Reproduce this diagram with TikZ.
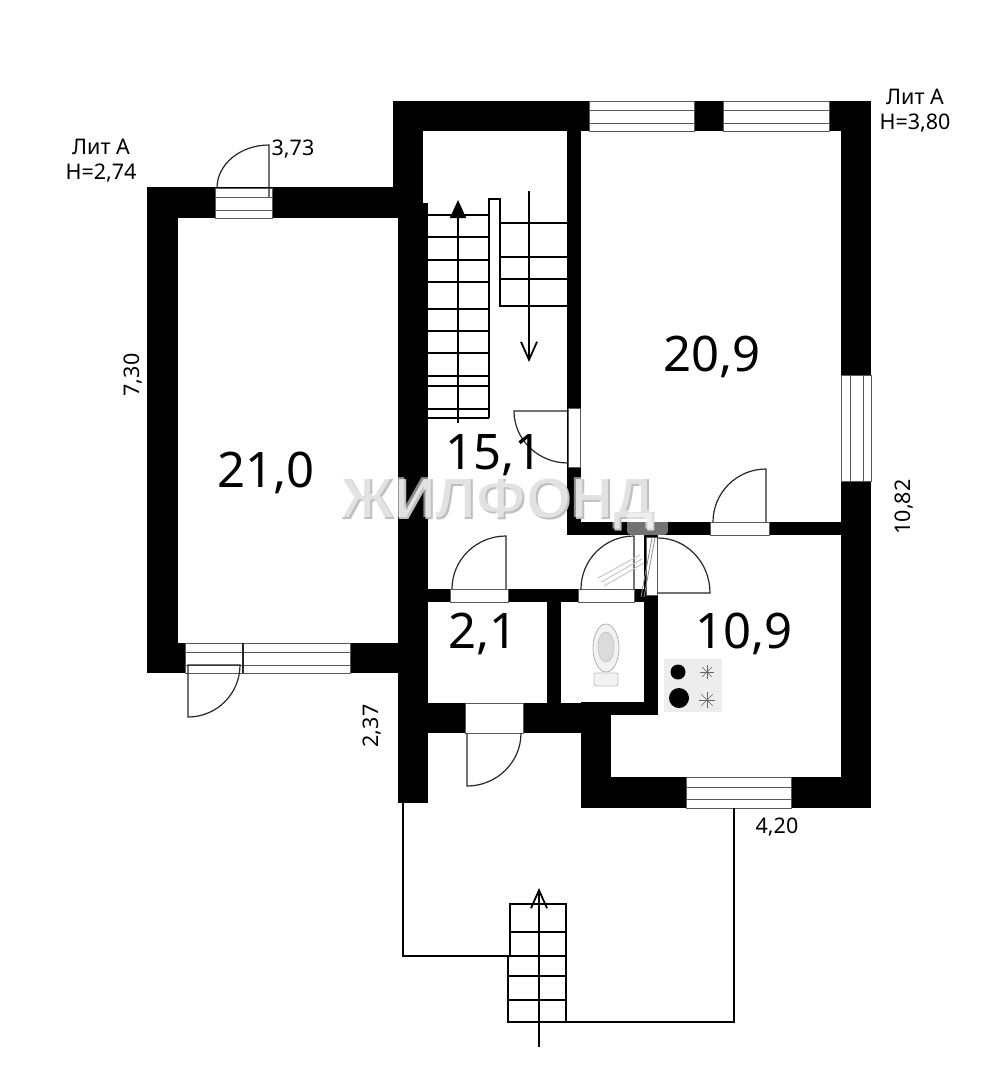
\documentclass[tikz,border=0pt]{standalone}
\usepackage{fontspec}
\setmainfont{Noto Sans}
\newfontfamily\stampfont{Liberation Sans}
\usetikzlibrary{arrows.meta}

\begin{document}
\begin{tikzpicture}[
		x=1pt, y=-1pt,
		wall/.style={fill=black},
		pane/.style={fill=white, draw=black!65, line width=1pt},
		swing/.style={draw=black!85, line width=1.2pt},
		stairs/.style={draw=black, line width=1.8pt},
		area/.style={font=\fontsize{49}{49}\selectfont, inner sep=0pt},
		dim/.style={font=\fontsize{21.5}{25}\selectfont, inner sep=0pt, align=center},
		stamp/.style={font=\stampfont\bfseries\fontsize{58}{58}\selectfont, inner sep=0pt}
		]
		\useasboundingbox (0,0) rectangle (1005,1080);

		% walls
		\foreach \xa/\ya/\xb/\yb in {147/187/398/218, 147/187/178/673, 147/643/398/673, 393/101/423/203,
			398/203/428/803, 393/101/871/131, 567/131/581/535, 841/101/871/808, 567/522/841/535,
			428/589/658/602, 644/535/658/715, 547/602/561/703, 428/703/581/733, 581/702/658/715,
			581/703/611/808, 581/777/871/808}
			\fill[wall] (\xa,\ya) rectangle (\xb,\yb);

		% windows, three lines along the wall
		\foreach \xa/\xb/\ya/\yb/\yc/\yd in {589/694/101/110/123/131, 723/829/101/110/123/131,
			686/791/777/787/799/808, 215/272/188/197/210/218, 185/350/643/652/665/673}
			\draw[pane] (\xa,\ya) rectangle (\xb,\yd) (\xa,\yb) -- (\xb,\yb) (\xa,\yc) -- (\xb,\yc);
		\draw[pane] (841,375) rectangle (871,481) (850,375) -- (850,481) (863,375) -- (863,481);
		\draw[swing] (243,643) -- (243,673);

		% door openings
		\foreach \xa/\ya/\xb/\yb in {710/522/769/535, 568/408/580/467, 450/589/508/602, 578/589/634/602,
			646/537/657/595, 465/703/523/733}
			\draw[pane] (\xa,\ya) rectangle (\xb,\yb);

		% door leaves
		\draw[swing] (217,188) arc[start angle=180, end angle=270, x radius=52, y radius=43] -- (269,197);
		\draw[swing] (188,665) -- (188,717) arc[start angle=90, end angle=0, x radius=52, y radius=52] -- cycle;
		\draw[swing] (766,522) -- (766,469) arc[start angle=270, end angle=180, x radius=53, y radius=53];
		\draw[swing] (568,411) -- (514,411) arc[start angle=180, end angle=90, x radius=54, y radius=52];
		\draw[swing] (506,589) -- (506,536) arc[start angle=270, end angle=180, x radius=54, y radius=53];
		\draw[swing] (634,589) -- (634,536) arc[start angle=270, end angle=180, x radius=53, y radius=53];
		\draw[swing] (658,538) arc[start angle=270, end angle=360, x radius=52, y radius=55] -- (658,593);
		\draw[swing] (467,733) -- (467,786) arc[start angle=90, end angle=0, x radius=54, y radius=53];

		% stairs inside
		\foreach \y in {215,237,260,282,309,331,353,376,386,409,418}
			\draw[stairs] (428,\y) -- (489,\y);
		\draw[stairs] (489,418) -- (489,199) -- (500,199) -- (500,306) -- (567,306);
		\foreach \y in {223,257,279}
			\draw[stairs] (500,\y) -- (567,\y);
		\draw[stairs, -{Triangle[length=18pt, width=16pt]}] (458,423) -- (458,200);
		\draw[stairs, -{Straight Barb[length=18pt, width=16pt]}] (529,191) -- (529,362);

		% porch
		\draw[stairs] (403,803) -- (403,956) -- (509,956);
		\draw[stairs] (510,956) -- (510,904) -- (566,904) -- (566,1022) -- (508,1022) -- (508,956);
		\foreach \y in {932,956,976,1000}
			\draw[stairs] (509,\y) -- (566,\y);
		\draw[stairs, line width=2.2pt] (566,1022) -- (734,1022) -- (734,808);
		\draw[stairs, -{Straight Barb[length=18pt, width=16pt]}] (539,1047) -- (539,888);

		% stove
		\fill[black!7] (664,659) rectangle (722,712);
		\fill (678,672) circle[radius=7.5];
		\fill (679,698) circle[radius=10];
		\foreach \a in {0,45,...,135} {
			\draw[black!60, line width=0.5pt] (707,672) ++(\a:7) -- ++(\a+180:14);
			\draw[black!60, line width=0.5pt] (707,700) ++(\a:8) -- ++(\a+180:16);
		}

		% toilet
		\draw[draw=black!30, fill=black!5, line width=0.8pt] (606,648) ellipse[x radius=13, y radius=24];
		\draw[draw=black!25, fill=black!14, line width=0.6pt] (606,647) ellipse[x radius=8, y radius=15];
		\draw[draw=black!25, fill=black!5, rounded corners=2pt, line width=0.8pt] (594,673) rectangle (618,686);

		% watermark
		\node[stamp, text=black!25] (stampback) at (499,505) {ЖИЛФОНД};
		\node[stamp, text=white, opacity=0.55] (stampfront) at (497,503) {ЖИЛФОНД};
		\fill[white, opacity=0.45, rounded corners=4pt] (627,513) rectangle (668,535);
		\draw[black!22, line width=1pt] (598,578) -- (640,555) (601,582) -- (642,559) (604,586) -- (644,563);
		\draw[black!45, line width=0.8pt] (641,597) -- (652,538) (644,597) -- (655,538);

		% areas
		\node[area] (bigroom) at (266,473) {21,0};
		\node[area] (upperroom) at (712,357) {20,9};
		\node[area] (hall) at (494,455) {15,1};
		\node[area] (kitchen) at (744,634) {10,9};
		\node[area] (closet) at (483,634) {2,1};

		% dimensions
		\node[dim] (litleft) at (101,161) {Лит А\\Н=2,74};
		\node[dim] (litright) at (915,111) {Лит А\\Н=3,80};
		\node[dim] (dimdoor) at (293,149) {3,73};
		\node[dim, rotate=90] (dimleft) at (133,375) {7,30};
		\node[dim, rotate=90] (dimright) at (904,507) {10,82};
		\node[dim, rotate=90] (dimporch) at (372,726) {2,37};
		\node[dim] (dimbottom) at (777,827) {4,20};
	\end{tikzpicture}
\end{document}
